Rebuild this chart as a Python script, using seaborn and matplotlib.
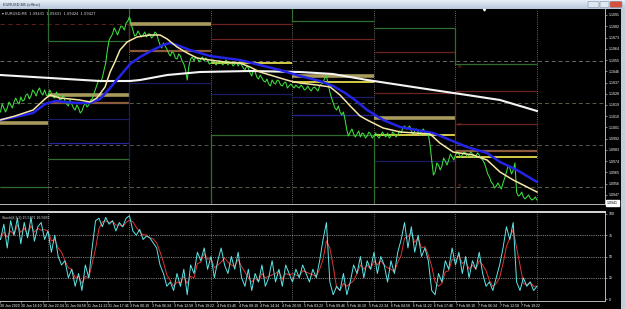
import numpy as np
import pandas as pd
import matplotlib
matplotlib.use("Agg")
import matplotlib.pyplot as plt
import matplotlib.transforms as mtransforms
from matplotlib.patches import Rectangle, FancyBboxPatch
import seaborn as sns

plt.rcParams['font.family'] = ['Liberation Sans', 'DejaVu Sans']

# ---------------- data ----------------
# closes on the full hour (trading hours since 30 Jan 00:00, weekend removed), from hour 10
price_close = [
    1.10134, 1.10166, 1.10166, 1.10190, 1.10214, 1.10214, 1.10254, 1.10230, 1.10278, 1.10262,
    1.10294, 1.10302, 1.10286, 1.10310, 1.10262, 1.10286, 1.10246, 1.10262, 1.10238, 1.10222,
    1.10182, 1.10198, 1.10150, 1.10166, 1.10142, 1.10206, 1.10190, 1.10238, 1.10318, 1.10390,
    1.10406, 1.10526, 1.10710, 1.10758, 1.10782, 1.10790, 1.10814, 1.10846, 1.10894, 1.10790,
    1.10750, 1.10758, 1.10750, 1.10734, 1.10758, 1.10742, 1.10758, 1.10670, 1.10686, 1.10638,
    1.10582, 1.10606, 1.10558, 1.10582, 1.10518, 1.10390, 1.10558, 1.10542, 1.10566, 1.10558,
    1.10542, 1.10550, 1.10526, 1.10534, 1.10526, 1.10526, 1.10534, 1.10510, 1.10526, 1.10518,
    1.10502, 1.10510, 1.10470, 1.10486, 1.10422, 1.10454, 1.10398, 1.10406, 1.10374, 1.10358,
    1.10390, 1.10358, 1.10382, 1.10342, 1.10374, 1.10342, 1.10342, 1.10350, 1.10326, 1.10334,
    1.10318, 1.10318, 1.10326, 1.10318, 1.10342, 1.10366, 1.10422, 1.10294, 1.10206, 1.10150,
    1.10134, 1.10134, 1.09990, 1.09974, 1.09958, 1.09958, 1.09934, 1.09958, 1.09942, 1.09958,
    1.09942, 1.09942, 1.09950, 1.09950, 1.09966, 1.09942, 1.09958, 1.09950, 1.09966, 1.10022,
    1.10006, 1.09982, 1.09982, 1.09974, 1.09982, 1.09974, 1.09958, 1.09750, 1.09654, 1.09710,
    1.09702, 1.09742, 1.09750, 1.09774, 1.09790, 1.09798, 1.09790, 1.09806, 1.09790, 1.09798,
    1.09782, 1.09790, 1.09750, 1.09686, 1.09614, 1.09558, 1.09542, 1.09542, 1.09566, 1.09654,
    1.09686, 1.09670, 1.09494, 1.09470, 1.09454, 1.09454, 1.09446, 1.09438, 1.09430,
]
price_hours = list(range(10, 10 + len(price_close)))

# closes on the half hour, from hour 10.5
price_close_half = [
    1.10198, 1.10134, 1.10214, 1.10166, 1.10246, 1.10198, 1.10222, 1.1027, 1.10238, 1.1031,
    1.10262, 1.10326, 1.1027, 1.1027, 1.1031, 1.10254, 1.10294, 1.1023, 1.1027, 1.10198,
    1.1023, 1.10166, 1.1019, 1.10126, 1.10182, 1.10174, 1.1023, 1.10278, 1.10358, 1.10374,
    1.1047, 1.1063, 1.10734, 1.10806, 1.1075, 1.10822, 1.1079, 1.10862, 1.10838, 1.10742,
    1.10782, 1.10734, 1.10774, 1.10758, 1.10726, 1.10774, 1.1071, 1.10646, 1.10662, 1.10606,
    1.10614, 1.10566, 1.10598, 1.10542, 1.1047, 1.10502, 1.10574, 1.10574, 1.10534, 1.10574,
    1.10566, 1.10518, 1.1055, 1.1051, 1.10542, 1.1051, 1.1055, 1.10534, 1.10502, 1.10534,
    1.10526, 1.10486, 1.10502, 1.10446, 1.1047, 1.10414, 1.1043, 1.10382, 1.10398, 1.10342,
    1.10366, 1.1039, 1.1035, 1.10366, 1.10326, 1.10358, 1.10326, 1.10334, 1.1035, 1.1031,
    1.10342, 1.10302, 1.10334, 1.10302, 1.10358, 1.10406, 1.10358, 1.10246, 1.10166, 1.10182,
    1.1011, 1.1007, 1.09942, 1.09998, 1.09934, 1.09982, 1.09966, 1.09926, 1.09974, 1.09926,
    1.09966, 1.09926, 1.09974, 1.09934, 1.09926, 1.09974, 1.09934, 1.09982, 1.10006, 1.09998,
    1.10022, 1.09958, 1.09998, 1.0995, 1.09998, 1.0995, 1.0987, 1.0963, 1.09726, 1.0967,
    1.09766, 1.0971, 1.09798, 1.0975, 1.09814, 1.09774, 1.09814, 1.09774, 1.09814, 1.09774,
    1.09806, 1.09766, 1.09726, 1.09638, 1.09574, 1.09526, 1.09566, 1.09518, 1.09606, 1.09702,
    1.09638, 1.09726, 1.09462, 1.09494, 1.09438, 1.0947, 1.0943, 1.09454,
]
price_hours_half = [h + 0.5 for h in range(10, 10 + len(price_close_half))]

fast_ma_hours = [9.9, 14.3, 19.6, 23.1, 24.6, 27.5, 30.5, 33.4, 36.4, 38.4,
                 40.8, 42.3, 43.7, 45.2, 47.3, 50.2, 54.0, 57.0, 59.1, 62.0,
                 65.0, 67.9, 71.7, 76.1, 80.5, 83.5, 86.4, 89.4, 92.3, 95.3,
                 98.2, 103.2, 107.1, 110.0, 113.0, 115.9, 118.0, 122.7, 127.7, 132.1,
                 136.5, 139.4, 143.3, 149.2, 153.3, 157.1, 161.0, 165.1, 168.0]
fast_ma = [1.1007, 1.10102, 1.1015, 1.10238, 1.1027, 1.10246, 1.10238, 1.1023, 1.10214, 1.10246,
           1.10334, 1.10454, 1.10534, 1.1063, 1.10694, 1.10734, 1.1075, 1.1075, 1.10718, 1.10654,
           1.10606, 1.10566, 1.1055, 1.10534, 1.10526, 1.10494, 1.10454, 1.1043, 1.10406, 1.10382,
           1.10366, 1.1035, 1.10334, 1.1027, 1.10182, 1.10102, 1.1007, 1.10006, 1.09974, 1.09966,
           1.09958, 1.09886, 1.09814, 1.0979, 1.0975, 1.09654, 1.0959, 1.09534, 1.09494]

mid_ma_hours = [9.9, 14.3, 19.6, 23.1, 26.1, 32.0, 36.4, 39.3, 42.3, 45.2,
                48.2, 51.1, 54.9, 57.9, 59.9, 62.0, 65.8, 71.7, 80.5, 86.4,
                92.3, 98.2, 104.1, 107.9, 111.5, 114.4, 118.0, 122.7, 127.7, 137.4,
                142.4, 147.4, 153.3, 157.1, 162.1, 168.0]
mid_ma = [1.1007, 1.10094, 1.10126, 1.10198, 1.10222, 1.10206, 1.10206, 1.10238, 1.10326, 1.10422,
          1.10518, 1.10574, 1.1063, 1.1067, 1.10686, 1.1067, 1.1063, 1.10582, 1.1055, 1.1051,
          1.1047, 1.10422, 1.10382, 1.10342, 1.10286, 1.1023, 1.1015, 1.1007, 1.10014, 1.09966,
          1.0991, 1.09854, 1.09806, 1.09734, 1.0967, 1.09574]

slow_ma_hours = [9.9, 24.6, 39.3, 48.2, 51.1, 59.1, 68.8, 83.5, 98.2, 107.9,
                 118.0, 127.7, 137.4, 147.4, 157.1, 168.0]
slow_ma = [1.1043, 1.10406, 1.10382, 1.10382, 1.1039, 1.1043, 1.10454, 1.10462, 1.10454, 1.10438,
           1.1039, 1.1035, 1.1031, 1.1027, 1.1023, 1.10142]

stoch_k = [
    70, 88, 60, 92, 75, 95, 65, 90, 72, 96,
    68, 85, 90, 70, 80, 55, 75, 50, 40, 45,
    25, 35, 15, 30, 10, 40, 25, 60, 92, 95,
    85, 96, 88, 92, 80, 90, 85, 95, 98, 80,
    75, 82, 70, 74, 72, 66, 60, 40, 30, 15,
    20, 10, 30, 15, 35, 5, 40, 30, 55, 45,
    60, 35, 50, 25, 45, 60, 40, 30, 50, 35,
    55, 25, 15, 35, 10, 30, 20, 40, 15, 25,
    45, 20, 35, 15, 40, 30, 20, 35, 25, 40,
    30, 20, 35, 25, 45, 70, 90, 20, 5, 15,
    10, 30, 5, 20, 40, 30, 50, 25, 45, 35,
    55, 30, 50, 40, 20, 45, 30, 55, 70, 90,
    60, 85, 55, 75, 50, 60, 45, 10, 5, 30,
    20, 45, 35, 60, 40, 55, 30, 50, 25, 45,
    35, 55, 30, 15, 20, 10, 25, 40, 60, 85,
    70, 90, 20, 10, 25, 15, 20, 10, 15,
]
stoch_hours = list(range(10, 10 + len(stoch_k)))

day_starts = [9.87, 24, 48, 72, 96, 120, 144]
day_ends = [24, 48, 72, 96, 120, 144, 168]

# daily pivot levels: day index, price, kind
pivot_day = [0, 0,
             1, 1, 1, 1, 1, 1,
             2, 2, 2,
             3, 3, 3, 3, 3,
             4, 4, 4, 4, 4, 4, 4,
             5, 5, 5, 5, 5, 5,
             6, 6, 6, 6, 6]
pivot_price = [1.10046, 1.09534,
               1.10702, 1.1027, 1.10206, 1.10078, 1.09886, 1.09758,
               1.10838, 1.10622, 1.10366,
               1.10838, 1.10718, 1.10526, 1.10278, 1.0995,
               1.10862, 1.10718, 1.10422, 1.10374, 1.10254, 1.1011, 1.0995,
               1.10806, 1.10614, 1.10286, 1.10086, 1.0995, 1.09742,
               1.10518, 1.10302, 1.10038, 1.09822, 1.09774]
pivot_kind = ['khaki', 'green',
              'green', 'khaki', 'brown', 'navy', 'blue', 'green',
              'khaki', 'brown', 'navy',
              'darkred', 'darkred', 'yellow', 'navy', 'green',
              'green', 'darkred', 'khaki', 'yellow', 'navy', 'blue', 'green',
              'green', 'darkred', 'darkred', 'khaki', 'yellow', 'navy',
              'green', 'darkred', 'darkred', 'brown', 'yellow']

# vertical joins: hour, from price, to price, kind
join_hour = [24, 48, 48, 48, 72, 96, 120, 144, 144]
join_from = [1.10958, 1.10958, 1.10838, 1.10542, 1.0995, 1.10958, 1.0995, 1.10302, 1.10806]
join_to = [1.10702, 1.10702, 1.10622, 1.09758, 1.09398, 1.10862, 1.09398, 1.09398, 1.10518]
join_kind = ['green', 'green', 'darkred', 'navy', 'green', 'green', 'green', 'darkred', 'green']

grid_levels = [1.10542, 1.10206, 1.0987, 1.09534]
grid_colors = ['#6a6a6a', '#55604a', '#555555', '#55604a']
dashed_red_level = 1.10838

pivot_tags = ['R2', 'R1', 'PP', 'S1', 'S2']
pivot_tag_prices = [1.10494, 1.10286, 1.1003, 1.09806, 1.09542]

price_labels = [1.1091, 1.1082, 1.1073, 1.1064, 1.1055, 1.1046, 1.1037, 1.1028, 1.1019,
                1.1010, 1.1001, 1.0992, 1.0983, 1.0974, 1.0965, 1.0956, 1.0947]
last_price = 1.09406

stoch_levels = [75, 50, 25]
stoch_labels = [100, 75, 50, 25, 0]

time_tick_hours = [9.9, 16.17, 22.57, 28.97, 35.37, 41.77, 48.17, 54.57, 60.97, 67.37,
                   73.77, 80.17, 86.57, 92.97, 99.37, 105.77, 112.17, 118.57, 124.97,
                   131.37, 137.77, 144.17, 150.57, 156.97, 163.37]
time_tick_labels = ["30 Jan 2020", "30 Jan 16:10", "30 Jan 22:34", "31 Jan 04:58", "31 Jan 11:22",
                    "31 Jan 17:46", "3 Feb 00:10", "3 Feb 06:34", "3 Feb 12:58", "3 Feb 19:22",
                    "4 Feb 01:46", "4 Feb 08:10", "4 Feb 14:34", "4 Feb 20:58", "5 Feb 03:22",
                    "5 Feb 09:46", "5 Feb 16:10", "5 Feb 22:34", "6 Feb 04:58", "6 Feb 11:22",
                    "6 Feb 17:46", "7 Feb 00:10", "7 Feb 06:34", "7 Feb 12:58", "7 Feb 19:22"]

# ---------------- styling ----------------
kind_style = {
    'green': ('#2f6e2f', 0.9),
    'darkred': ('#6e2222', 0.9),
    'brown': ('#8a5a3a', 1.6),
    'khaki': ('#a89a5c', 2.6),
    'yellow': ('#d6cc48', 1.4),
    'navy': ('#1c1c66', 0.9),
    'blue': ('#23239a', 0.9),
}

W, H = 625, 309


def rect(x0, y0, x1, y1):
    return [x0 / W, 1 - y1 / H, (x1 - x0) / W, (y1 - y0) / H]


fig = plt.figure(figsize=(W / 100, H / 100), dpi=100, facecolor='black')

XMIN, XMAX = 9.87, 188.03
PMIN, PMAX = 1.09398, 1.10958

# ---- main price panel ----
ax = fig.add_axes(rect(0, 9, 605, 204))
ax.set_facecolor('black')
ax.set_xlim(XMIN, XMAX)
ax.set_ylim(PMIN, PMAX)

for lvl, c in zip(grid_levels, grid_colors):
    ax.axhline(lvl, color=c, lw=0.7, ls=(0, (4, 3)), zorder=1)
ax.plot([XMIN, 48], [dashed_red_level, dashed_red_level], color='#5a1c1c', lw=0.8,
        ls=(0, (4, 3)), zorder=1)

for d in day_ends:
    ax.axvline(d, color='#8a8a8a', lw=0.6, ls=(0, (1, 1.6)), zorder=1)

for d, p, k in zip(pivot_day, pivot_price, pivot_kind):
    c, lw = kind_style[k]
    ax.plot([day_starts[d], day_ends[d]], [p, p], color=c, lw=lw, zorder=2,
            solid_capstyle='butt')
for hr, p0, p1, k in zip(join_hour, join_from, join_to, join_kind):
    c, lw = kind_style[k]
    ax.plot([hr, hr], [p0, p1], color=c, lw=0.9, zorder=2)

for t, p in zip(pivot_tags, pivot_tag_prices):
    ax.text(144.6, p, t, color='#8a3030', fontsize=2.6, va='center', ha='left', zorder=3)

df_price = pd.concat([
    pd.DataFrame({'hour': price_hours, 'price': price_close}),
    pd.DataFrame({'hour': price_hours_half, 'price': price_close_half}),
]).sort_values('hour')
sns.lineplot(data=df_price, x='hour', y='price', ax=ax, color='#3ee03e', lw=0.75,
             legend=False, zorder=4)
sns.lineplot(x=slow_ma_hours, y=slow_ma, ax=ax, color='#f4f4f4', lw=1.5, legend=False, zorder=5)
sns.lineplot(x=mid_ma_hours, y=mid_ma, ax=ax, color='#2424e6', lw=1.8, legend=False, zorder=6)
sns.lineplot(x=fast_ma_hours, y=fast_ma, ax=ax, color='#f6e6a6', lw=1.1, legend=False, zorder=7)

ax.set_xlabel('')
ax.set_ylabel('')
ax.set_xticks([])
ax.yaxis.tick_right()
ax.set_yticks(price_labels)
ax.set_yticklabels([f"{p:.4f}" for p in price_labels])
ax.tick_params(axis='y', colors='#b0b0b0', labelcolor='white', labelsize=2.6,
               length=1.5, width=0.5, pad=1)
for s in ['top', 'left']:
    ax.spines[s].set_visible(False)
for s in ['bottom', 'right']:
    ax.spines[s].set_color('#b8b8b8')
    ax.spines[s].set_linewidth(0.7)

ax.text(0.004, 0.985, "\u25be EURUSD,M5  1.09431  1.09431  1.09424  1.09427",
        transform=ax.transAxes, color='#d8d8d8', fontsize=2.6, va='top', ha='left',
        family=['DejaVu Sans'])
ax.text(1.0 + 2 / 605, last_price, f"{last_price:.4f}",
        transform=mtransforms.blended_transform_factory(ax.transAxes, ax.transData),
        color='black', fontsize=2.6, va='center', ha='left', clip_on=False,
        bbox=dict(boxstyle='square,pad=0.25', fc='white', ec='white'), zorder=10)
# chart shift marker
ax.plot([XMIN + 484 * 24 / 81.5], [PMAX], marker='v', color='white', ms=2.2,
        clip_on=False, zorder=10)

# ---- stochastic panel ----
ax2 = fig.add_axes(rect(0, 212, 605, 301))
ax2.set_facecolor('black')
ax2.set_xlim(XMIN, XMAX)
ax2.set_ylim(-2.35, 102.35)
for lv in stoch_levels:
    ax2.axhline(lv, color='#a8a8a8', lw=0.6, ls=(0, (1, 1.2)), zorder=1)
for d in day_ends:
    ax2.axvline(d, color='#8a8a8a', lw=0.6, ls=(0, (1, 1.6)), zorder=1)

df_st = pd.DataFrame({'hour': stoch_hours, 'k': stoch_k})
df_st['d'] = df_st['k'].rolling(3, min_periods=1).mean()
sns.lineplot(data=df_st, x='hour', y='d', ax=ax2, color='#e03434', lw=0.7, legend=False, zorder=3)
sns.lineplot(data=df_st, x='hour', y='k', ax=ax2, color='#5ee6e6', lw=0.7, legend=False, zorder=4)
ax2.set_xlabel('')
ax2.set_ylabel('')
ax2.yaxis.tick_right()
ax2.set_yticks(stoch_labels)
ax2.set_yticklabels([str(v) for v in stoch_labels])
ax2.tick_params(axis='y', colors='#b0b0b0', labelcolor='white', labelsize=2.6,
                length=1.5, width=0.5, pad=1)
ax2.set_xticks(time_tick_hours)
ax2.set_xticklabels(time_tick_labels, ha='left')
ax2.tick_params(axis='x', colors='#b0b0b0', labelcolor='white', labelsize=2.5,
                length=1.5, width=0.5, pad=0.8)
ax2.spines['left'].set_visible(False)
ax2.spines['top'].set_color('#d8d8d8')
ax2.spines['top'].set_linewidth(1.4)
for s in ['bottom', 'right']:
    ax2.spines[s].set_color('#b8b8b8')
    ax2.spines[s].set_linewidth(0.7)
ax2.text(0.004, 0.96, "Stoch(8,3,3) 15.5771 16.5682", transform=ax2.transAxes,
         color='#d8d8d8', fontsize=2.6, va='top', ha='left')

# ---- window chrome ----
tb = fig.add_axes(rect(0, 0, 625, 9))
grad = np.linspace(0, 1, 9).reshape(-1, 1)
tb.imshow(grad, aspect='auto', extent=[0, 625, 9, 0],
          cmap=matplotlib.colors.LinearSegmentedColormap.from_list('tb', ['#e6edf6', '#b9c9de']))
tb.set_xlim(0, 625)
tb.set_ylim(9, 0)
tb.set_axis_off()
tb.text(3, 4.6, "EURUSD,M5 (offline)", color='#1e2c40', fontsize=2.8, va='center', ha='left')
for x0, x1, fc in [(588, 599, '#dfe7f1'), (600, 609, '#dfe7f1'), (610, 622, '#d8503c')]:
    tb.add_patch(FancyBboxPatch((x0, 1.3), x1 - x0, 6.2, boxstyle='round,pad=0,rounding_size=1.2',
                                fc=fc, ec='#7f8ea6', lw=0.4))

fig.add_artist(Rectangle((621 / W, 0), 4 / W, 1 - 9 / H, transform=fig.transFigure,
                         fc='#c4ced9', ec='none'))

fig.savefig('out.png', dpi=100, facecolor='black')
